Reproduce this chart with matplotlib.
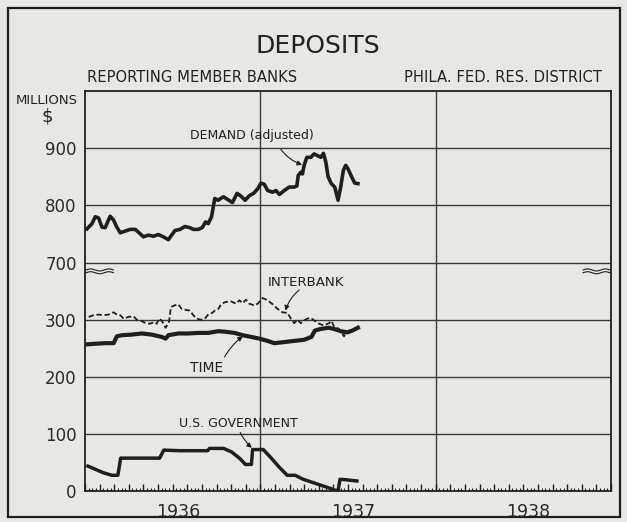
import numpy as np
import matplotlib
matplotlib.use("Agg")
import matplotlib.pyplot as plt
from matplotlib.patches import Rectangle

# ---------------- data (months since Jan 1936, values in millions $) ----------------
demand_m = [0.14, 0.48, 0.70, 0.93, 1.16, 1.38, 1.72, 1.96, 2.18, 2.41, 2.75, 3.09, 3.43, 3.66,
            4.00, 4.34, 4.68, 5.02, 5.36, 5.71, 5.93, 6.16, 6.50, 6.84, 7.18, 7.41, 7.75, 8.02,
            8.25, 8.43, 8.66, 8.88, 9.11, 9.34, 9.48, 9.78, 10.09, 10.41, 10.68, 10.96, 11.25,
            11.54, 11.82, 12.05, 12.27, 12.50, 12.84, 13.07, 13.30, 13.64, 13.98, 14.32, 14.50,
            14.59, 14.77, 14.88, 15.00, 15.18, 15.46, 15.68, 15.91, 16.14, 16.32, 16.48, 16.64,
            16.86, 17.09, 17.32, 17.50, 17.68, 17.84, 18.00, 18.23, 18.46, 18.68]
demand_v = [759, 768, 780, 778, 762, 761, 781, 774, 762, 752, 755, 758, 758, 753,
            745, 748, 746, 749, 745, 740, 748, 756, 758, 763, 761, 758, 758, 761,
            771, 768, 780, 812, 809, 813, 815, 810, 805, 821, 816, 809, 817,
            821, 829, 839, 837, 826, 823, 826, 819, 826, 832, 832, 834,
            852, 858, 855, 870, 884, 884, 890, 887, 884, 891, 876, 850,
            838, 832, 809, 832, 861, 870, 864, 851, 839, 838]

interbank_m = [0.25, 0.59, 0.93, 1.27, 1.62, 1.96, 2.18, 2.41, 2.64, 2.98, 3.32, 3.55, 3.84, 4.16,
               4.45, 4.75, 4.91, 5.07, 5.25, 5.37, 5.52, 5.75, 5.88, 6.12, 6.39, 6.61, 6.95, 7.18,
               7.41, 7.64, 7.93, 8.20, 8.43, 8.71, 8.88, 9.12, 9.34, 9.61, 10.00, 10.34, 10.57,
               10.79, 11.02, 11.25, 11.59, 11.82, 12.16, 12.50, 12.84, 13.18, 13.52, 13.86, 14.09,
               14.32, 14.54, 14.77, 15.00, 15.22, 15.46, 15.73, 16.02, 16.36, 16.70, 16.86, 17.05,
               17.39, 17.73, 17.84, 18.07, 18.29, 18.52, 18.68]
interbank_v = [305, 308, 309, 308, 309, 313, 309, 308, 302, 305, 306, 300, 298, 294,
               293, 296, 293, 302, 298, 293, 286, 296, 322, 325, 327, 319, 317, 316,
               308, 302, 300, 302, 309, 312, 316, 319, 328, 331, 332, 328, 334,
               329, 335, 328, 325, 328, 338, 334, 327, 319, 313, 312, 302,
               294, 300, 294, 299, 302, 303, 298, 293, 290, 294, 298, 288,
               284, 271, 278, 277, 280, 284, 286]

time_m = [0.14, 0.70, 1.38, 1.96, 2.18, 2.52, 3.20, 3.89, 4.57, 5.25, 5.52, 5.71, 6.39, 7.07,
          7.75, 8.43, 9.12, 9.61, 10.23, 10.79, 11.37, 11.93, 12.50, 12.95, 13.64, 14.32, 15.00,
          15.50, 15.73, 16.14, 16.70, 17.16, 17.50, 17.95, 18.29, 18.52, 18.68]
time_v = [257, 258, 259, 259, 271, 273, 274, 276, 274, 270, 267, 273, 276, 276,
          277, 277, 280, 279, 277, 273, 270, 267, 263, 259, 261, 263, 265,
          270, 281, 284, 286, 283, 280, 278, 281, 284, 286]

usgov_m = [0.20, 0.75, 1.30, 1.84, 2.25, 2.44, 3.75, 5.11, 5.39, 6.48, 8.39, 8.52, 9.48, 10.02,
           10.57, 10.98, 11.39, 11.47, 12.20, 12.75, 13.30, 13.84, 14.39, 14.93, 15.75, 16.57,
           17.11, 17.32, 17.45, 17.93, 18.61]
usgov_v = [44, 38, 32, 28, 28, 58, 58, 58, 72, 71, 71, 75, 75, 69,
           58, 47, 47, 73, 73, 58, 42, 28, 28, 21, 14, 7,
           2, 1, 21, 20, 18]

years = ["1936", "1937", "1938"]
lower_ticks = [0, 100, 200, 300]
upper_ticks = [700, 800, 900]
BREAK_SHIFT = 300  # values of 700+ are drawn 300 units lower (broken scale)

# ---------------- figure ----------------
W, H = 627, 522
BG = "#e7e7e3"
INK = "#1f1f1f"
plt.rcParams["font.family"] = ["DejaVu Sans"]
fig = plt.figure(figsize=(W / 100, H / 100), dpi=100, facecolor=BG)

def fx(px):
    return px / W

def fy(py):
    return 1 - py / H

# outer frame
fig.patches.append(Rectangle((fx(8), fy(517)), fx(620) - fx(8), fy(8) - fy(517),
                             transform=fig.transFigure, fill=False, ec=INK, lw=1.6))

ax = fig.add_axes([fx(85), fy(491.3), fx(611) - fx(85), fy(91) - fy(491.3)])
ax.set_facecolor(BG)
ax.set_xlim(0, 36)
ax.set_ylim(0, 700)

# grid
for v in [100, 200, 300, 400, 500, 600]:
    ax.axhline(v, color="#3a3a3a", lw=1.0, zorder=1)
for m in [12, 24]:
    ax.axvline(m, color="#3a3a3a", lw=1.0, zorder=1)

for s in ax.spines.values():
    s.set_color(INK)
    s.set_linewidth(1.3)

# y ticks
yt = lower_ticks + [u - BREAK_SHIFT for u in upper_ticks]
ax.set_yticks(yt)
ax.set_yticklabels([str(t) for t in lower_ticks + upper_ticks], fontsize=12, color="#2a2a2a")
ax.tick_params(axis="y", length=0, pad=6)

# x ticks: months major, weeks minor, pointing inward
ax.set_xticks(np.arange(0, 37, 1))
ax.set_xticks(np.arange(0, 36.01, 0.25), minor=True)
ax.tick_params(axis="x", which="major", direction="in", length=5, width=1, color=INK, labelbottom=False)
ax.tick_params(axis="x", which="minor", direction="in", length=2.5, width=0.8, color=INK)

# series
ax.plot(demand_m, [v - BREAK_SHIFT for v in demand_v], color=INK, lw=2.6,
        solid_joinstyle="round", zorder=4)
ax.plot(interbank_m, interbank_v, color=INK, lw=1.3, ls=(0, (3, 1.5)), zorder=4)
ax.plot(time_m, time_v, color=INK, lw=3.0, solid_joinstyle="round", zorder=4)
ax.plot(usgov_m, usgov_v, color=INK, lw=2.5, solid_joinstyle="round", zorder=4)

# break marks
tr = ax.transAxes
def squiggle(x0, x1, yc):
    xs = np.linspace(x0, x1, 40)
    ys = yc + 0.0025 * np.sin((xs - x0) / (x1 - x0) * 2 * np.pi * 1.5)
    ax.plot(xs, ys, transform=tr, color=INK, lw=0.8, clip_on=False, zorder=5)

for yc in [0.553, 0.546]:
    squiggle(0.002, 0.054, yc)
    squiggle(0.947, 0.998, yc)

# annotations
arrow = dict(arrowstyle="-|>", color=INK, lw=0.8, mutation_scale=7,
             connectionstyle="arc3,rad=0.15", shrinkA=0, shrinkB=0)
ax.text(11.39, 622, "DEMAND (adjusted)", fontsize=9, ha="center", va="center", color=INK)
ax.annotate("", xy=(14.86, 571), xytext=(13.40, 598), arrowprops=arrow)
ax.text(15.14, 365, "INTERBANK", fontsize=9.6, ha="center", va="center", color=INK)
ax.annotate("", xy=(13.72, 316), xytext=(14.66, 352), arrowprops=arrow)
ax.text(8.32, 216, "TIME", fontsize=10, ha="center", va="center", color=INK)
ax.annotate("", xy=(10.80, 271), xytext=(9.55, 235), arrowprops=dict(arrow, connectionstyle="arc3,rad=-0.1"))
ax.text(10.50, 119, "U.S. GOVERNMENT", fontsize=9, ha="center", va="center", color=INK)
ax.annotate("", xy=(11.42, 76), xytext=(10.62, 103), arrowprops=dict(arrow, connectionstyle="arc3,rad=0.1"))

# year labels
for i, yr in enumerate(years):
    ax.text(12 * i + 6.35, -0.03, yr, transform=ax.get_xaxis_transform(), ha="center", va="top",
            fontsize=12.5, color="#2a2a2a")

# titles
fig.text(fx(318), fy(46), "DEPOSITS", ha="center", va="center", fontsize=18, color="#222222")
fig.text(fx(87), fy(78), "REPORTING MEMBER BANKS", ha="left", va="center", fontsize=10.6, color="#222222")
fig.text(fx(602), fy(78), "PHILA. FED. RES. DISTRICT", ha="right", va="center", fontsize=10.6, color="#222222")
fig.text(fx(47), fy(101), "MILLIONS", ha="center", va="center", fontsize=9.5, color="#222222")
fig.text(fx(47), fy(116), "$", ha="center", va="center", fontsize=13, color="#222222")

fig.savefig("out.png", dpi=100, facecolor=BG)
